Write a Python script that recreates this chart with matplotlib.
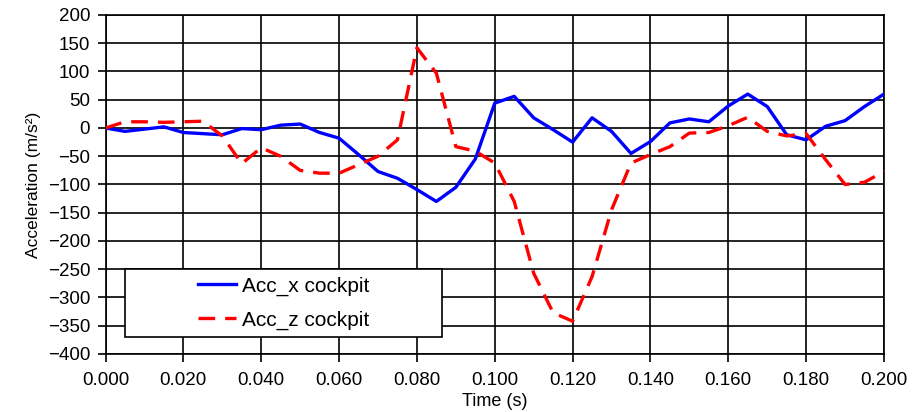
import matplotlib.pyplot as plt
from matplotlib.patches import Rectangle
import numpy as np

plt.rcParams['font.family'] = ['Liberation Sans', 'DejaVu Sans']

# time samples (s)
time = np.arange(41) * 0.005

acc_x = [0, -6, -2, 2, -8, -10, -12, -1, -3, 5,
         7, -8, -18, -47, -77, -89, -109, -130, -105, -55,
         44, 56, 18, -3, -25, 18, -6, -45, -24, 9,
         16, 11, 39, 60, 38, -12, -21, 3, 13, 38,
         60]
acc_z = [0, 11, 11, 10, 11, 12, -14, -63, -35, -50,
         -75, -80, -80, -65, -50, -21, 142, 97, -33, -41,
         -62, -130, -257, -327, -342, -263, -145, -62, -47, -33,
         -9, -8, 4, 19, -6, -14, -10, -56, -100, -96,
         -77]

fig = plt.figure(figsize=(9.24, 4.12), dpi=100)
ax = fig.add_axes([0.1142, 0.1408, 0.8425, 0.8228])

ax.plot(time, acc_x, color='#0000ff', linewidth=2.4, label='Acc_x cockpit', zorder=3)
ax.plot(time, acc_z, color='#ff0000', linewidth=2.4, linestyle=(0, (5, 3)),
        label='Acc_z cockpit', zorder=3)

ax.set_xlim(0, 0.2)
ax.set_ylim(-400, 200)
ax.set_xticks(np.arange(0, 0.2001, 0.02))
ax.set_xticklabels(['%.3f' % v for v in np.arange(0, 0.2001, 0.02)])
ax.set_yticks(np.arange(-400, 201, 50))
ax.grid(True, color='black', linewidth=1.2)
for s in ax.spines.values():
    s.set_color('black')
    s.set_linewidth(1.2)
ax.tick_params(axis='both', colors='black', labelsize=13.5, width=1.2, length=6)
ax.tick_params(axis='x', pad=7)
ax.tick_params(axis='y', pad=5)

ax.set_xlabel('Time (s)', fontsize=13, labelpad=3)
ax.set_ylabel('Acceleration (m/s²)', fontsize=12.5, labelpad=5)

# legend box drawn separately so entries sit centred inside it
box = Rectangle((0.025, 0.05), 0.407, 0.2, transform=ax.transAxes,
                facecolor='white', edgecolor='black', linewidth=1.2, zorder=4)
ax.add_patch(box)
leg = ax.legend(loc='center', bbox_to_anchor=(0.2285, 0.15), fontsize=15,
                frameon=False, labelspacing=0.7, handlelength=1.85,
                handletextpad=0.25)
leg.set_zorder(5)

fig.savefig('out.png', dpi=100)
